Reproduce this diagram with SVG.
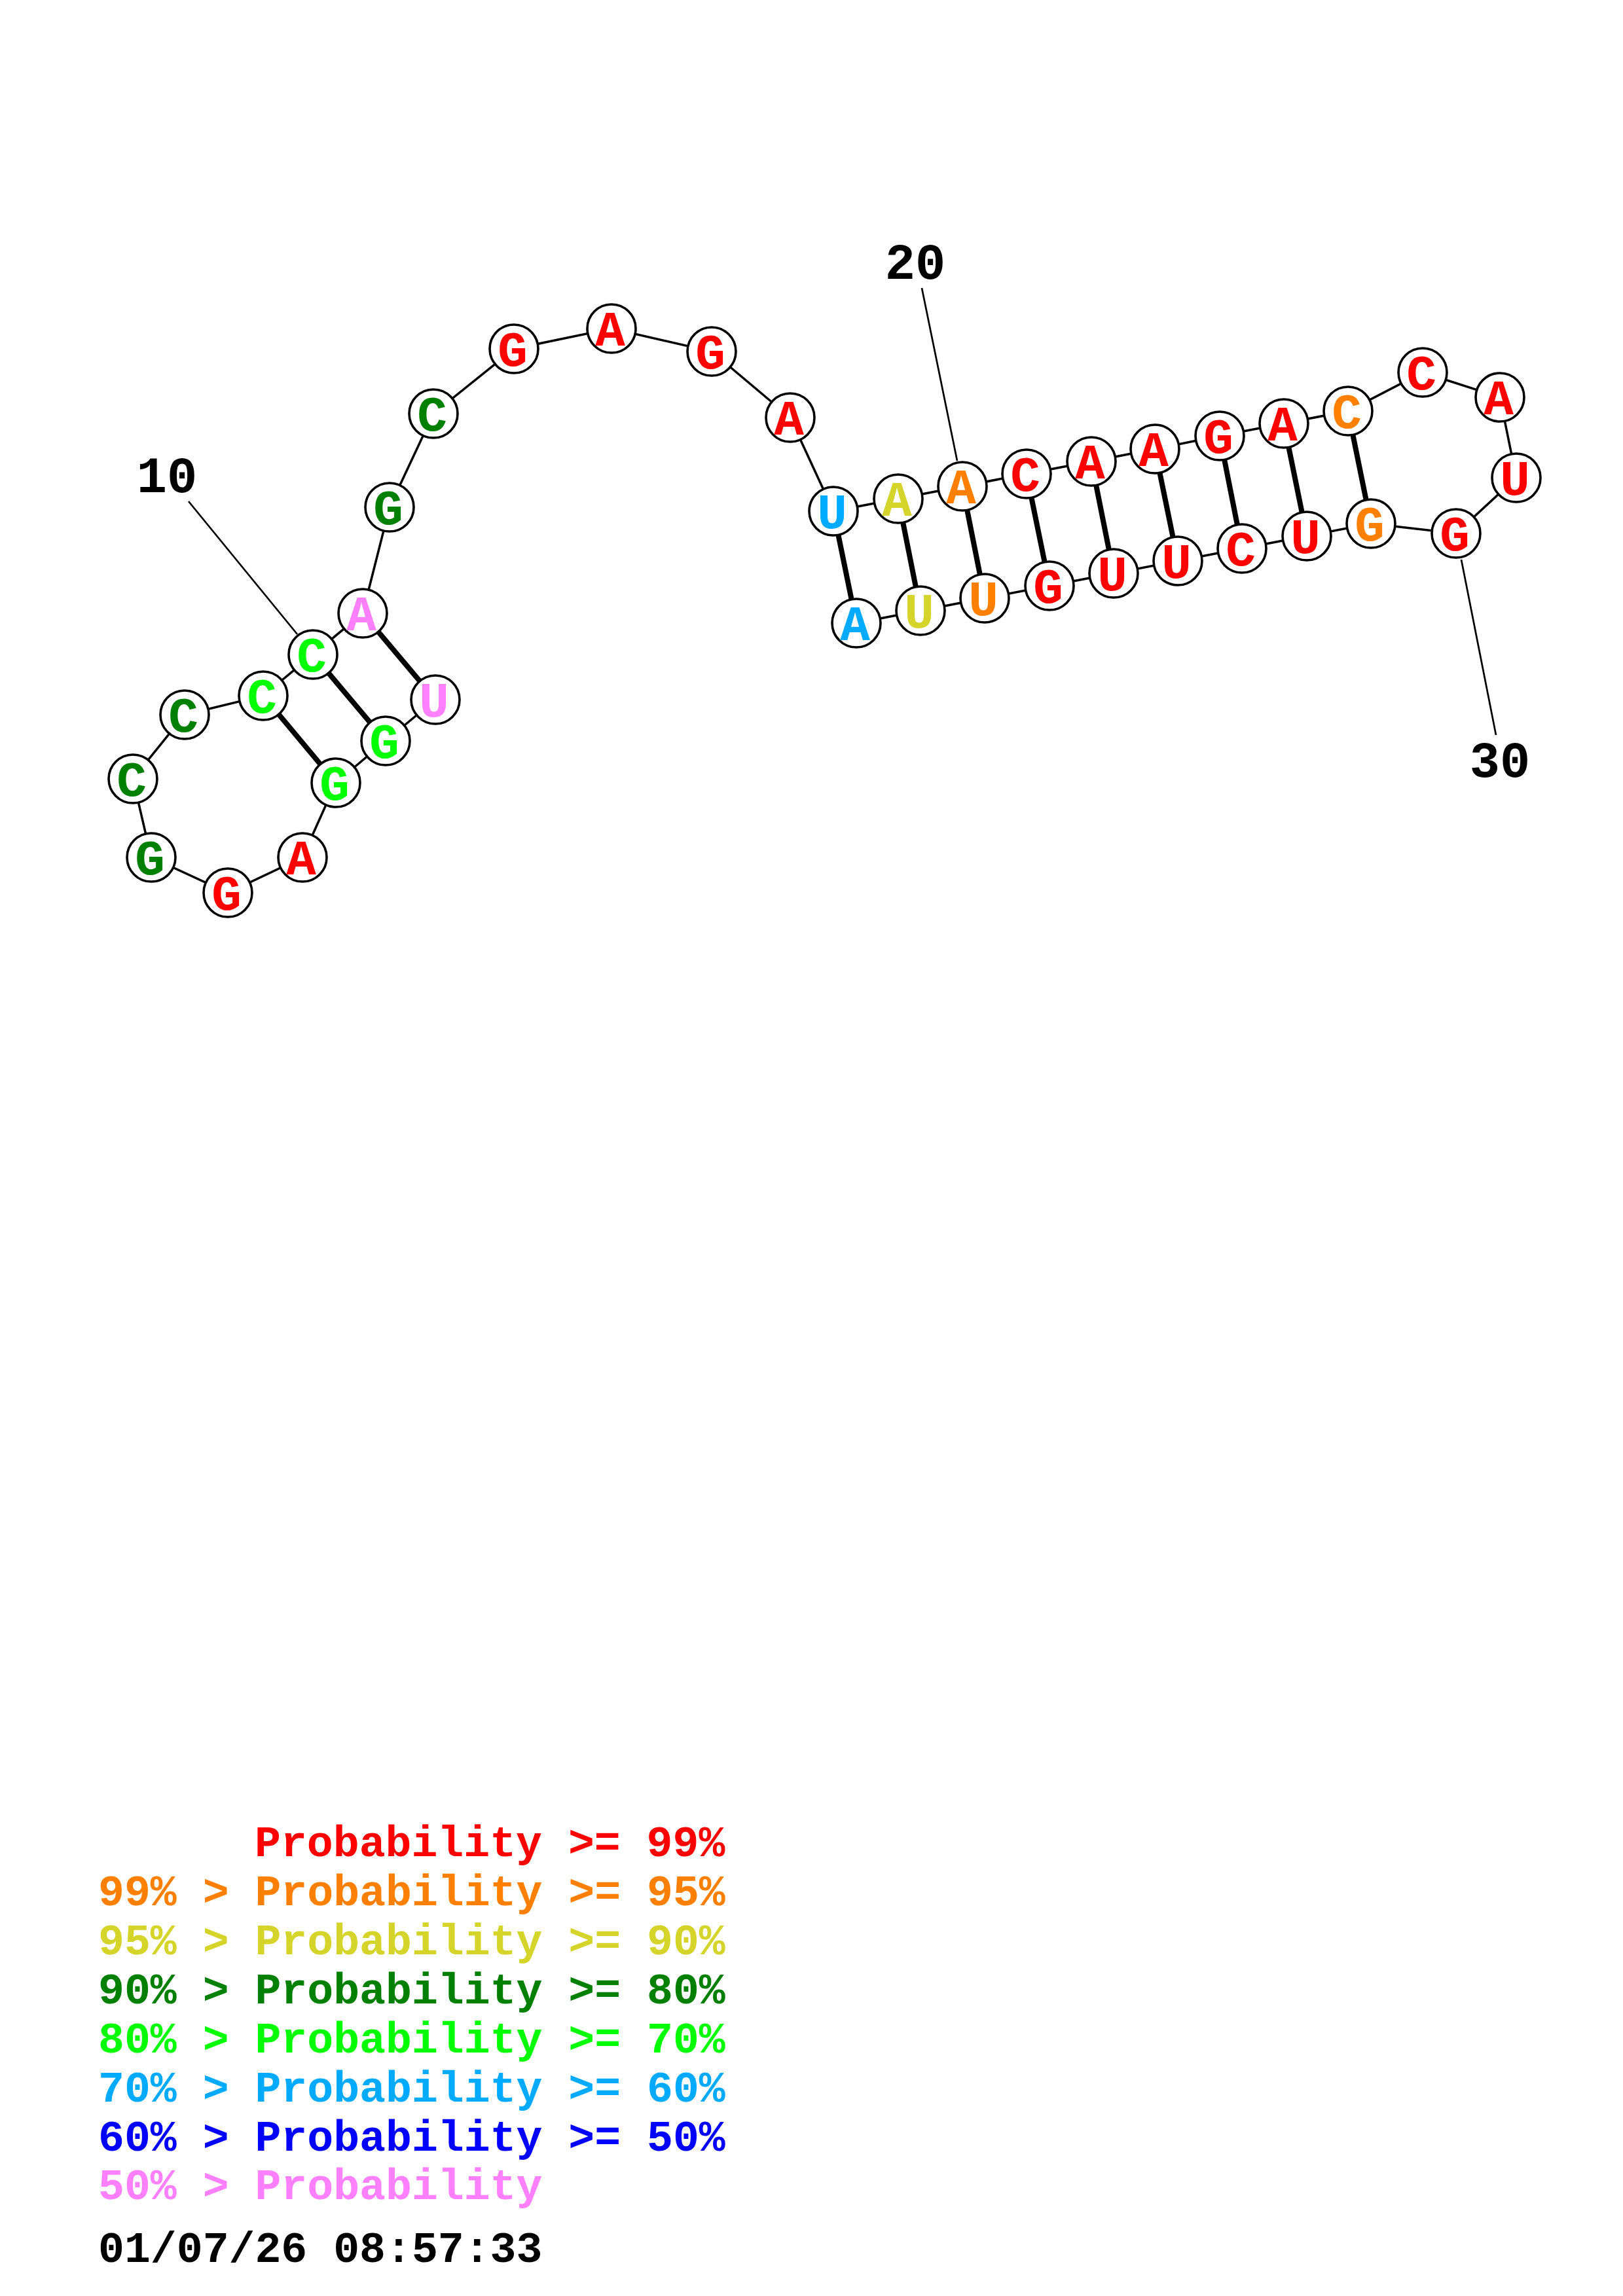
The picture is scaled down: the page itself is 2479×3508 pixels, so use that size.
<svg xmlns="http://www.w3.org/2000/svg" width="2479" height="3508" viewBox="0 0 2479 3508">
<style>
.bb{stroke:#000;stroke-width:3.5;fill:none}
.pr{stroke:#000;stroke-width:8;fill:none}
.ll{stroke:#000;stroke-width:2.7;fill:none}
.nc{fill:#fff;stroke:#000;stroke-width:3.6}
.nt{font-family:"Liberation Mono","Courier New",monospace;font-weight:bold;font-size:76px;text-anchor:middle}
.lb{font-family:"Liberation Mono","Courier New",monospace;font-weight:bold;font-size:77px;text-anchor:middle;fill:#000}
.lg{font-family:"Liberation Mono","Courier New",monospace;font-weight:bold;font-size:66.5px}
.r{fill:#ff0000}.o{fill:#ff8000}.y{fill:#d4d42a}.d{fill:#008000}.g{fill:#00ff00}.s{fill:#00aaff}.b{fill:#0000ff}.p{fill:#ff80ff}.k{fill:#000}
</style>
<rect width="2479" height="3508" fill="#fff"/>
<g id="connectors">
<polyline class="bb" points="665,1069 589,1132 513,1196 462,1310 348,1364 231,1310 203,1190 282,1092 402,1063 478,1000 554,937 595,775 662,632 785,533 934,502 1087,537 1207,638 1273,781 1372,762 1470,743 1568,724 1667,705 1764,686 1863,666 1961,647 2059,628 2173,569 2291,607 2316,730 2224,815 2094,800 1996,819 1897,838 1799,857 1701,876 1603,895 1504,914 1406,933 1308,952"/>
<line class="pr" x1="665" y1="1069" x2="554" y2="937"/>
<line class="pr" x1="589" y1="1132" x2="478" y2="1000"/>
<line class="pr" x1="513" y1="1196" x2="402" y2="1063"/>
<line class="pr" x1="1273" y1="781" x2="1308" y2="952"/>
<line class="pr" x1="1372" y1="762" x2="1406" y2="933"/>
<line class="pr" x1="1470" y1="743" x2="1504" y2="914"/>
<line class="pr" x1="1568" y1="724" x2="1603" y2="895"/>
<line class="pr" x1="1667" y1="705" x2="1701" y2="876"/>
<line class="pr" x1="1764" y1="686" x2="1799" y2="857"/>
<line class="pr" x1="1863" y1="666" x2="1897" y2="838"/>
<line class="pr" x1="1961" y1="647" x2="1996" y2="819"/>
<line class="pr" x1="2059" y1="628" x2="2094" y2="800"/>
<line class="ll" x1="288" y1="766" x2="454" y2="969"/>
<line class="ll" x1="1408" y1="440" x2="1462" y2="704"/>
<line class="ll" x1="2232" y1="855" x2="2285" y2="1123"/>
</g>
<g id="n1"><circle class="nc" cx="665" cy="1069" r="37"/><text class="nt p" x="663" y="1095">U</text></g>
<g id="n2"><circle class="nc" cx="589" cy="1132" r="37"/><text class="nt g" x="587" y="1158">G</text></g>
<g id="n3"><circle class="nc" cx="513" cy="1196" r="37"/><text class="nt g" x="511" y="1222">G</text></g>
<g id="n4"><circle class="nc" cx="462" cy="1310" r="37"/><text class="nt r" x="460" y="1336">A</text></g>
<g id="n5"><circle class="nc" cx="348" cy="1364" r="37"/><text class="nt r" x="346" y="1390">G</text></g>
<g id="n6"><circle class="nc" cx="231" cy="1310" r="37"/><text class="nt d" x="229" y="1336">G</text></g>
<g id="n7"><circle class="nc" cx="203" cy="1190" r="37"/><text class="nt d" x="201" y="1216">C</text></g>
<g id="n8"><circle class="nc" cx="282" cy="1092" r="37"/><text class="nt d" x="280" y="1118">C</text></g>
<g id="n9"><circle class="nc" cx="402" cy="1063" r="37"/><text class="nt g" x="400" y="1089">C</text></g>
<g id="n10"><circle class="nc" cx="478" cy="1000" r="37"/><text class="nt g" x="476" y="1026">C</text></g>
<g id="n11"><circle class="nc" cx="554" cy="937" r="37"/><text class="nt p" x="552" y="963">A</text></g>
<g id="n12"><circle class="nc" cx="595" cy="775" r="37"/><text class="nt d" x="593" y="801">G</text></g>
<g id="n13"><circle class="nc" cx="662" cy="632" r="37"/><text class="nt d" x="660" y="658">C</text></g>
<g id="n14"><circle class="nc" cx="785" cy="533" r="37"/><text class="nt r" x="783" y="559">G</text></g>
<g id="n15"><circle class="nc" cx="934" cy="502" r="37"/><text class="nt r" x="932" y="528">A</text></g>
<g id="n16"><circle class="nc" cx="1087" cy="537" r="37"/><text class="nt r" x="1085" y="563">G</text></g>
<g id="n17"><circle class="nc" cx="1207" cy="638" r="37"/><text class="nt r" x="1205" y="664">A</text></g>
<g id="n18"><circle class="nc" cx="1273" cy="781" r="37"/><text class="nt s" x="1271" y="807">U</text></g>
<g id="n19"><circle class="nc" cx="1372" cy="762" r="37"/><text class="nt y" x="1370" y="788">A</text></g>
<g id="n20"><circle class="nc" cx="1470" cy="743" r="37"/><text class="nt o" x="1468" y="769">A</text></g>
<g id="n21"><circle class="nc" cx="1568" cy="724" r="37"/><text class="nt r" x="1566" y="750">C</text></g>
<g id="n22"><circle class="nc" cx="1667" cy="705" r="37"/><text class="nt r" x="1665" y="731">A</text></g>
<g id="n23"><circle class="nc" cx="1764" cy="686" r="37"/><text class="nt r" x="1762" y="712">A</text></g>
<g id="n24"><circle class="nc" cx="1863" cy="666" r="37"/><text class="nt r" x="1861" y="692">G</text></g>
<g id="n25"><circle class="nc" cx="1961" cy="647" r="37"/><text class="nt r" x="1959" y="673">A</text></g>
<g id="n26"><circle class="nc" cx="2059" cy="628" r="37"/><text class="nt o" x="2057" y="654">C</text></g>
<g id="n27"><circle class="nc" cx="2173" cy="569" r="37"/><text class="nt r" x="2171" y="595">C</text></g>
<g id="n28"><circle class="nc" cx="2291" cy="607" r="37"/><text class="nt r" x="2289" y="633">A</text></g>
<g id="n29"><circle class="nc" cx="2316" cy="730" r="37"/><text class="nt r" x="2314" y="756">U</text></g>
<g id="n30"><circle class="nc" cx="2224" cy="815" r="37"/><text class="nt r" x="2222" y="841">G</text></g>
<g id="n31"><circle class="nc" cx="2094" cy="800" r="37"/><text class="nt o" x="2092" y="826">G</text></g>
<g id="n32"><circle class="nc" cx="1996" cy="819" r="37"/><text class="nt r" x="1994" y="845">U</text></g>
<g id="n33"><circle class="nc" cx="1897" cy="838" r="37"/><text class="nt r" x="1895" y="864">C</text></g>
<g id="n34"><circle class="nc" cx="1799" cy="857" r="37"/><text class="nt r" x="1797" y="883">U</text></g>
<g id="n35"><circle class="nc" cx="1701" cy="876" r="37"/><text class="nt r" x="1699" y="902">U</text></g>
<g id="n36"><circle class="nc" cx="1603" cy="895" r="37"/><text class="nt r" x="1601" y="921">G</text></g>
<g id="n37"><circle class="nc" cx="1504" cy="914" r="37"/><text class="nt o" x="1502" y="940">U</text></g>
<g id="n38"><circle class="nc" cx="1406" cy="933" r="37"/><text class="nt y" x="1404" y="959">U</text></g>
<g id="n39"><circle class="nc" cx="1308" cy="952" r="37"/><text class="nt s" x="1306" y="978">A</text></g>
<g id="labels">
<text class="lb" x="255" y="752">10</text>
<text class="lb" x="1398" y="426">20</text>
<text class="lb" x="2291" y="1187">30</text>
</g>
<g id="legend">
<text class="lg r" x="389" y="2836">Probability &gt;= 99%</text>
<text class="lg o" x="150" y="2911">99% &gt; Probability &gt;= 95%</text>
<text class="lg y" x="150" y="2986">95% &gt; Probability &gt;= 90%</text>
<text class="lg d" x="150" y="3061">90% &gt; Probability &gt;= 80%</text>
<text class="lg g" x="150" y="3136">80% &gt; Probability &gt;= 70%</text>
<text class="lg s" x="150" y="3211">70% &gt; Probability &gt;= 60%</text>
<text class="lg b" x="150" y="3286">60% &gt; Probability &gt;= 50%</text>
<text class="lg p" x="150" y="3360">50% &gt; Probability</text>
<text class="lg k" x="150" y="3456">01/07/26 08:57:33</text>
</g>
</svg>
